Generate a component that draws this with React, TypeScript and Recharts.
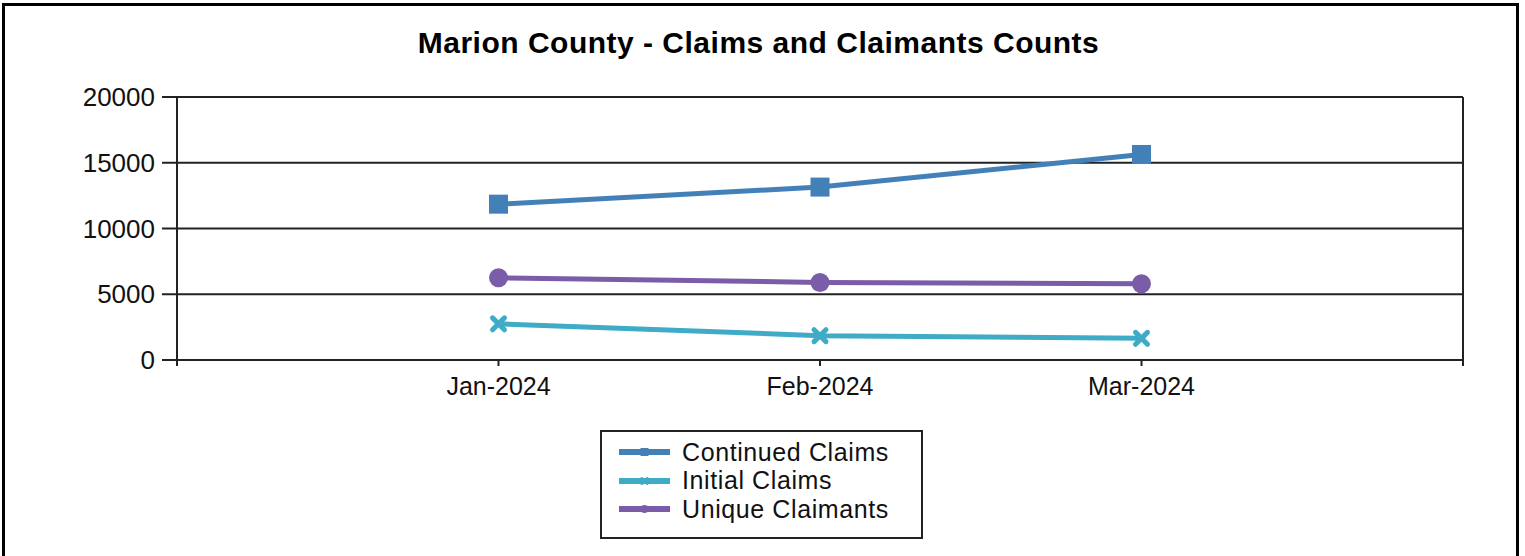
import React from 'react';
import { LineChart, Line, XAxis, YAxis, CartesianGrid, Legend, ReferenceLine } from 'recharts';

const months = ['Jan-2024', 'Feb-2024', 'Mar-2024'];
const continuedClaims = [11850, 13150, 15630];
const initialClaims = [2750, 1850, 1650];
const uniqueClaimants = [6250, 5900, 5800];
const yTicks = [0, 5000, 10000, 15000, 20000];

const FONT = '"Liberation Sans", Arial, sans-serif';
const INK = '#111';

const SERIES = [
  { key: 'continued', name: 'Continued Claims', color: '#4480b8', shape: 'square' },
  { key: 'initial', name: 'Initial Claims', color: '#3fabc6', shape: 'cross' },
  { key: 'unique', name: 'Unique Claimants', color: '#7b5ca8', shape: 'circle' },
];

// positions 1..3 on a 0..4 axis, leaving an empty slot at each end
const data = months.map((m, i) => ({
  pos: i + 1,
  month: m,
  continued: continuedClaims[i],
  initial: initialClaims[i],
  unique: uniqueClaimants[i],
}));

const Marker = ({ shape, cx, cy, color, size }: any) => {
  const h = size / 2;
  if (shape === 'square') {
    return <rect x={cx - h} y={cy - h} width={size} height={size} fill={color} />;
  }
  if (shape === 'circle') {
    return <circle cx={cx} cy={cy} r={h} fill={color} />;
  }
  const c = h * 0.7;
  return (
    <g stroke={color} strokeWidth={size * 0.3} strokeLinecap="round">
      <line x1={cx - c} y1={cy - c} x2={cx + c} y2={cy + c} />
      <line x1={cx - c} y1={cy + c} x2={cx + c} y2={cy - c} />
    </g>
  );
};

const makeDot = (shape: string, color: string, size: number) => (props: any) => {
  const { cx, cy, index } = props;
  if (cx == null || cy == null) return <g key={index} />;
  return (
    <g key={`${shape}-${index}`}>
      <Marker shape={shape} cx={cx} cy={cy} color={color} size={size} />
    </g>
  );
};

const renderLegend = () => (
  <div
    style={{
      width: 323,
      height: 109,
      border: '2px solid #222',
      boxSizing: 'border-box',
      background: '#fff',
      paddingTop: 6,
      fontFamily: FONT,
    }}
  >
    {SERIES.map((s) => (
      <div key={s.key} style={{ display: 'flex', alignItems: 'center', height: 28.5, paddingLeft: 17 }}>
        <svg width={51} height={12} style={{ display: 'block' }}>
          <line x1={0} y1={6} x2={51} y2={6} stroke={s.color} strokeWidth={6} />
          <Marker shape={s.shape} cx={25.5} cy={6} color={s.color} size={8} />
        </svg>
        <span style={{ marginLeft: 12, fontSize: 25, letterSpacing: 0.6, color: INK, lineHeight: 1 }}>{s.name}</span>
      </div>
    ))}
  </div>
);

export default function App() {
  return (
    <div style={{ position: 'absolute', left: 0, top: 0, width: 1525, height: 556, background: '#fff', overflow: 'hidden' }}>
      <div
        style={{
          position: 'absolute',
          left: 2,
          top: 3,
          width: 1517,
          height: 600,
          border: '3px solid #000',
          boxSizing: 'border-box',
        }}
      />
      <div
        style={{
          position: 'absolute',
          left: 0,
          width: 1517,
          top: 25,
          textAlign: 'center',
          fontFamily: FONT,
          fontWeight: 'bold',
          fontSize: 30,
          letterSpacing: 0.5,
          lineHeight: '36px',
          color: '#000',
        }}
      >
        Marion County - Claims and Claimants Counts
      </div>
      <div style={{ position: 'absolute', left: 0, top: 0 }}>
        <LineChart width={1525} height={556} data={data} margin={{ top: 97, right: 62, bottom: 156, left: 0 }}>
          <CartesianGrid vertical={false} stroke="#222" strokeWidth={2} />
          <ReferenceLine x={4} stroke="#222" strokeWidth={2} />
          <XAxis
            type="number"
            dataKey="pos"
            domain={[0, 4]}
            ticks={[0, 1, 2, 3, 4]}
            tickFormatter={(v: number) => months[v - 1] ?? ''}
            height={40}
            tickSize={6}
            tickMargin={11}
            axisLine={{ stroke: '#222', strokeWidth: 2 }}
            tickLine={{ stroke: '#222', strokeWidth: 2 }}
            tick={{ fill: INK, fontSize: 25, fontFamily: FONT }}
          />
          <YAxis
            domain={[0, 20000]}
            ticks={yTicks}
            width={177}
            tickSize={15}
            tickMargin={7}
            axisLine={{ stroke: '#222', strokeWidth: 2 }}
            tickLine={{ stroke: '#222', strokeWidth: 2 }}
            tick={{ fill: INK, fontSize: 26, fontFamily: FONT }}
          />
          <Legend
            layout="horizontal"
            verticalAlign="middle"
            align="center"
            content={renderLegend}
            wrapperStyle={{ left: 600, top: 430, width: 323, height: 109 }}
          />
          {SERIES.map((s) => (
            <Line
              key={s.key}
              dataKey={s.key}
              name={s.name}
              type="linear"
              stroke={s.color}
              strokeWidth={5}
              dot={makeDot(s.shape, s.color, s.shape === 'cross' ? 17 : 19)}
              activeDot={false}
              isAnimationActive={false}
            />
          ))}
        </LineChart>
      </div>
    </div>
  );
}
